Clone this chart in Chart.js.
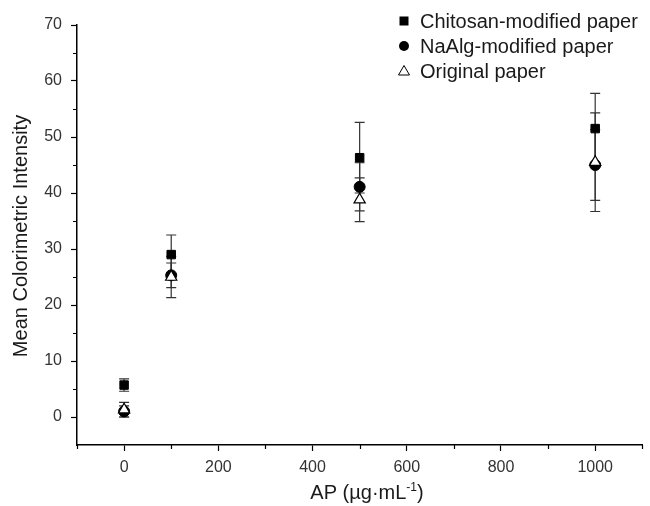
<!DOCTYPE html>
<html>
<head>
<meta charset="utf-8">
<script src="https://cdn.jsdelivr.net/npm/chart.js@4/dist/chart.umd.min.js"></script>
<style>
  html, body { margin: 0; padding: 0; background: #fff; }
  #wrap { width: 650px; height: 506px; }
</style>
</head>
<body>
<div id="wrap"><canvas id="chart" width="650" height="506"></canvas></div>
<script>
// --- Données ---
const concentrations = [0, 100, 500, 1000];

const chitosan    = [5.7, 29.0, 46.3, 51.5];
const chitosanErr = [1.1, 3.5, 6.3, 6.3];

const naalg    = [1.0, 25.3, 41.1, 45.0];
const naalgErr = [1.0, 2.2, 4.3, 6.3];

const original    = [1.3, 25.0, 38.8, 45.5];
const originalErr = [1.3, 3.7, 3.9, 8.8];

const seriesLabels = ['Chitosan-modified paper', 'NaAlg-modified paper', 'Original paper'];

const xTicks = [0, 200, 400, 600, 800, 1000];
const xMinor = [-100, 100, 300, 500, 700, 900, 1100];
const yTicks = [0, 10, 20, 30, 40, 50, 60, 70];
const yMinor = [5, 15, 25, 35, 45, 55, 65];

const FONT = '"Liberation Sans", Arial, sans-serif';
const INK  = '#1a1a1a';

function toPoints(ys) {
  return concentrations.map((x, i) => ({ x, y: ys[i] }));
}

// Barres d'erreur (dessinées via les échelles du graphique)
const errorBars = {
  id: 'errorBars',
  beforeDatasetsDraw(chart) {
    const { ctx, scales: { x, y } } = chart;
    ctx.save();
    ctx.strokeStyle = '#333';
    ctx.lineWidth = 1.2;
    chart.data.datasets.forEach(ds => {
      ds.data.forEach((p, i) => {
        const e  = ds.errors[i];
        const px = x.getPixelForValue(p.x);
        const y1 = y.getPixelForValue(p.y + e);
        const y2 = y.getPixelForValue(p.y - e);
        ctx.beginPath();
        ctx.moveTo(px, y1); ctx.lineTo(px, y2);
        ctx.moveTo(px - 5, y1); ctx.lineTo(px + 5, y1);
        ctx.moveTo(px - 5, y2); ctx.lineTo(px + 5, y2);
        ctx.stroke();
      });
    });
    ctx.restore();
  },
};

// Graduations mineures, titres d'axes, légende
const decorations = {
  id: 'decorations',
  afterDraw(chart) {
    const { ctx, chartArea: a, scales: { x, y } } = chart;
    ctx.save();
    ctx.strokeStyle = '#000';
    ctx.lineWidth = 1.2;
    ctx.beginPath();
    xMinor.forEach(v => {
      const px = Math.round(x.getPixelForValue(v)) + 0.5;
      ctx.moveTo(px, a.bottom); ctx.lineTo(px, a.bottom + 4);
    });
    yMinor.forEach(v => {
      const py = Math.round(y.getPixelForValue(v)) + 0.5;
      ctx.moveTo(a.left, py); ctx.lineTo(a.left - 4, py);
    });
    ctx.stroke();

    // Titre axe Y
    ctx.fillStyle = INK;
    ctx.font = '20px ' + FONT;
    ctx.textAlign = 'center';
    ctx.textBaseline = 'middle';
    ctx.save();
    ctx.translate(21, (a.top + a.bottom) / 2 + 1);
    ctx.rotate(-Math.PI / 2);
    ctx.fillText('Mean Colorimetric Intensity', 0, 0);
    ctx.restore();

    // Titre axe X : AP (µg·mL⁻¹)
    ctx.textAlign = 'left';
    ctx.textBaseline = 'alphabetic';
    const main = 'AP (µg·mL';
    const sup  = '-1';
    const tail = ')';
    ctx.font = '20px ' + FONT;
    const w1 = ctx.measureText(main).width;
    const w3 = ctx.measureText(tail).width;
    ctx.font = '12px ' + FONT;
    const w2 = ctx.measureText(sup).width;
    const cx = 367;
    const sx = cx - (w1 + w2 + w3) / 2;
    const base = 499;
    ctx.font = '20px ' + FONT;
    ctx.fillText(main, sx, base);
    ctx.font = '12px ' + FONT;
    ctx.fillText(sup, sx + w1, base - 8);
    ctx.font = '20px ' + FONT;
    ctx.fillText(tail, sx + w1 + w2, base);

    // Légende
    const rows = [21, 46, 71];
    ctx.font = '20px ' + FONT;
    ctx.textBaseline = 'middle';
    chart.data.datasets.forEach((ds, i) => {
      const mx = 404, my = rows[i];
      ctx.fillStyle = '#000';
      ctx.strokeStyle = '#000';
      ctx.lineWidth = 1;
      if (ds.pointStyle === 'rect') {
        ctx.fillRect(mx - 4.5, my - 4.5, 9, 9);
      } else if (ds.pointStyle === 'circle') {
        ctx.beginPath(); ctx.arc(mx, my, 5, 0, Math.PI * 2); ctx.fill();
      } else {
        ctx.beginPath();
        ctx.moveTo(mx, my - 5.5); ctx.lineTo(mx + 5.5, my + 4); ctx.lineTo(mx - 5.5, my + 4);
        ctx.closePath(); ctx.stroke();
      }
      ctx.fillStyle = INK;
      ctx.fillText(ds.label, 420, my + 1);
    });
    ctx.restore();
  },
};

new Chart(document.getElementById('chart'), {
  type: 'scatter',
  data: {
    datasets: [
      {
        label: seriesLabels[0], data: toPoints(chitosan), errors: chitosanErr, order: 2,
        pointStyle: 'rect', pointRadius: 6, backgroundColor: '#000', borderColor: '#000', borderWidth: 1,
      },
      {
        label: seriesLabels[1], data: toPoints(naalg), errors: naalgErr, order: 1,
        pointStyle: 'circle', pointRadius: 5.5, backgroundColor: '#000', borderColor: '#000', borderWidth: 1,
      },
      {
        label: seriesLabels[2], data: toPoints(original), errors: originalErr, order: 0,
        pointStyle: 'triangle', pointRadius: 6.5, backgroundColor: '#fff', borderColor: '#000', borderWidth: 1.2,
      },
    ],
  },
  options: {
    responsive: false,
    animation: false,
    events: [],
    layout: { padding: { top: 25, right: 5, left: 0, bottom: 0 } },
    plugins: { legend: { display: false }, tooltip: { enabled: false } },
    scales: {
      x: {
        type: 'linear', min: -100, max: 1100,
        afterBuildTicks: axis => { axis.ticks = xTicks.map(v => ({ value: v })); },
        afterFit: scale => { scale.height = 61; },
        border: { display: true, color: '#000', width: 1.5 },
        grid: { drawOnChartArea: false, drawTicks: true, tickLength: 6, tickColor: '#000', tickWidth: 1.2 },
        ticks: { color: '#333', font: { family: FONT, size: 16 }, padding: 7, maxRotation: 0,
                 callback: v => String(v) },
      },
      y: {
        type: 'linear', min: -5, max: 70,
        afterBuildTicks: axis => { axis.ticks = yTicks.map(v => ({ value: v })); },
        afterFit: scale => { scale.width = 77; },
        border: { display: true, color: '#000', width: 1.5 },
        grid: { drawOnChartArea: false, drawTicks: true, tickLength: 6, tickColor: '#000', tickWidth: 1.2 },
        ticks: { color: '#333', font: { family: FONT, size: 16 }, padding: 9,
                 callback: v => String(v) },
      },
    },
  },
  plugins: [errorBars, decorations],
});
</script>
</body>
</html>
